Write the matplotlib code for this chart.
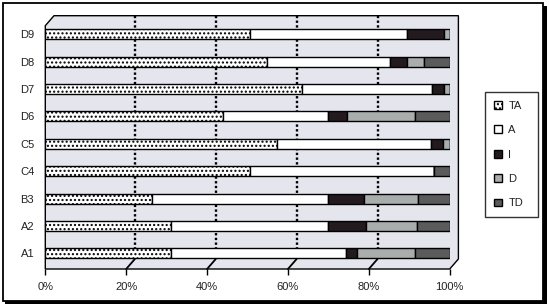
import matplotlib
matplotlib.use("Agg")
import matplotlib.pyplot as plt
from matplotlib.patches import Polygon, Rectangle
from matplotlib.transforms import ScaledTranslation

# ============================================================
# DATOS
# ============================================================

categorias = ["A1", "A2", "B3", "C4", "C5", "D6", "D7", "D8", "D9"]

ta = [31.2, 31.2, 26.5, 50.5, 57.2, 44.0, 63.6, 54.7, 50.5]
a = [43.2, 38.8, 43.5, 45.7, 38.2, 26.0, 32.1, 30.5, 38.9]
i_ = [2.7, 9.3, 8.7, 0.0, 2.9, 4.6, 2.8, 4.2, 9.1]
d = [14.4, 12.7, 13.5, 0.0, 1.7, 16.9, 1.5, 4.3, 1.5]
td = [8.5, 8.0, 7.8, 3.8, 0.0, 8.5, 0.0, 6.3, 0.0]

series = ["TA", "A", "I", "D", "TD"]
ticks_x = [0, 20, 40, 60, 80, 100]
grid_x = [20, 40, 60, 80]

# ============================================================
# ESTILO
# ============================================================

plt.rcParams["font.family"] = ["Liberation Sans", "DejaVu Sans"]
plt.rcParams["font.size"] = 8
plt.rcParams["hatch.linewidth"] = 1.0

W, H = 549, 307
fig = plt.figure(figsize=(W / 100, H / 100), dpi=100)
fig.patch.set_facecolor("white")

# marco exterior con sombra
fig.add_artist(Rectangle((5 / W, 3 / H), 541.5 / W, 298 / H, transform=fig.transFigure,
                         facecolor="black", edgecolor="none", zorder=-2))
fig.add_artist(Rectangle((3 / W, 6 / H), 540 / W, 298 / H, transform=fig.transFigure,
                         facecolor="white", edgecolor="black", linewidth=1.3, zorder=-1))

ax = fig.add_axes([45.3 / W, 38 / H, 404.4 / W, 243.3 / H])
ax.patch.set_visible(False)

# pared 3D (profundidad en fracciones de ejes)
dx, dy = 8.7 / 404.4, 10 / 243.3
pared = Polygon([(0, 0), (0, 1), (dx, 1 + dy), (1 + dx, 1 + dy), (1 + dx, dy), (1, 0)],
                closed=True, transform=ax.transAxes, facecolor="#e5e5ee",
                edgecolor="black", linewidth=1.0, clip_on=False, zorder=0)
ax.add_patch(pared)

# lineas de rejilla en el plano del fondo + diagonal del piso
trans_fondo = ax.get_xaxis_transform() + ScaledTranslation(0.087, 0, fig.dpi_scale_trans)
for gx in grid_x:
    ax.plot([gx, gx], [dy, 1 + dy], transform=trans_fondo, color="black",
            linestyle=(0, (1, 1)), linewidth=1.7, clip_on=False, zorder=1)
    ax.annotate("", xy=(gx, 0), xycoords=ax.get_xaxis_transform(),
                xytext=(8.7, 10), textcoords="offset pixels",
                arrowprops=dict(arrowstyle="-", color="black", linewidth=1.3,
                                shrinkA=0, shrinkB=0))

# ============================================================
# BARRAS APILADAS
# ============================================================

y = list(range(len(categorias)))
alto = 0.365
valores = [ta, a, i_, d, td]
colores = ["white", "white", "#231a20", "#a9adab", "#5b5b5b"]
tramas = ["....", None, None, None, None]

izq = [0.0] * len(categorias)
handles = []
for nombre, vals, col, trama in zip(series, valores, colores, tramas):
    bars = ax.barh(y, vals, left=izq, height=alto, color=col, edgecolor="black",
                   linewidth=1.0, hatch=trama, zorder=3, label=nombre)
    handles.append(bars)
    izq = [l + v for l, v in zip(izq, vals)]

ax.set_xlim(0, 100)
ax.set_ylim(-0.573, 8.31)

ax.set_xticks(ticks_x)
ax.set_xticklabels([f"{t}%" for t in ticks_x])
ax.set_yticks(y)
ax.set_yticklabels(categorias)
ax.tick_params(axis="x", length=4, width=1, pad=5, colors="black", labelcolor="#222222")
ax.tick_params(axis="y", length=0, pad=8, labelcolor="#222222")
for s in ax.spines.values():
    s.set_visible(False)

# ============================================================
# LEYENDA
# ============================================================

leg = fig.legend(handles=handles, labels=series, loc="center left",
                 bbox_to_anchor=(485 / W, 90.3 / H, 53.3 / W, 124.4 / H), mode="expand",
                 frameon=True, fancybox=False, edgecolor="black",
                 handlelength=0.7, handleheight=0.7, handletextpad=0.6,
                 labelspacing=1.3, borderpad=0.8, borderaxespad=0, fontsize=8)
leg.get_frame().set_linewidth(1.0)
for t in leg.get_texts():
    t.set_color("#222222")

fig.savefig("out.png", dpi=100, facecolor="white")
